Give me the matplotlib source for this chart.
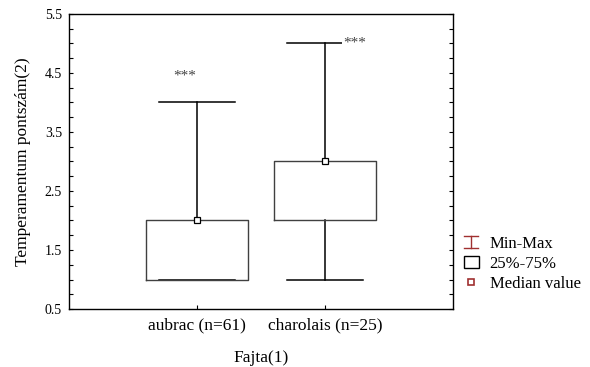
import matplotlib
matplotlib.use('Agg')
from matplotlib import pyplot as plt
from matplotlib.lines import Line2D
from matplotlib.patches import Rectangle
from matplotlib.legend_handler import HandlerBase

plt.rcParams['font.family'] = ['Liberation Serif', 'DejaVu Serif']

groups = ['aubrac (n=61)', 'charolais (n=25)']
mins = [1, 1]
q1s = [1, 2]
medians = [2, 3]
q3s = [2, 3]
maxs = [4, 5]
stars = ['***', '***']
star_y = [4.45, 5.0]
star_dx = [-0.1, 0.23]

red = '#a03030'


class MinMaxHandler(HandlerBase):
    # small I-beam for the legend
    def create_artists(self, legend, orig_handle, xd, yd, width, height, fontsize, trans):
        cx = xd + width / 2.0
        w = width * 0.45
        lines = [
            Line2D([cx, cx], [yd, yd + height], color=red, lw=1.0, transform=trans),
            Line2D([cx - w, cx + w], [yd + height, yd + height], color=red, lw=1.0, transform=trans),
            Line2D([cx - w, cx + w], [yd, yd], color=red, lw=1.0, transform=trans),
        ]
        return lines


def main():
    fig = plt.figure(figsize=(5.9, 3.67), dpi=100)
    ax = fig.add_axes([0.117, 0.158, 0.651, 0.804])

    pos = [1, 2]
    stats = []
    for i in range(len(groups)):
        stats.append({'med': medians[i], 'q1': q1s[i], 'q3': q3s[i],
                      'whislo': mins[i], 'whishi': maxs[i], 'fliers': []})
    ax.bxp(stats, positions=pos, widths=0.8, capwidths=0.6, showfliers=False,
           boxprops=dict(color='#404040', lw=1.0, zorder=4),
           whiskerprops=dict(color='black', lw=1.1),
           capprops=dict(color='black', lw=1.1),
           medianprops=dict(linestyle='none'))
    ax.plot(pos, medians, 's', ms=4.5, mfc='white', mec='black', mew=0.9, zorder=5)

    # the star label sits on a white patch, which hides part of the cap
    for i in range(len(groups)):
        ax.text(pos[i] + star_dx[i], star_y[i], stars[i], ha='center', va='center',
                fontsize=11, color='#444444',
                bbox=dict(facecolor='white', edgecolor='none', pad=0.5), zorder=6)

    ax.set_xlim(0, 3)
    ax.set_ylim(0.5, 5.5)
    ax.set_xticks(pos)
    ax.set_xticklabels(groups, fontsize=12.5)
    ax.set_yticks([0.5, 1.5, 2.5, 3.5, 4.5, 5.5])
    ax.set_yticklabels(['0.5', '1.5', '2.5', '3.5', '4.5', '5.5'], fontsize=10)
    ax.set_yticks([0.75 + 0.5 * k for k in range(10)] + [1.0 + k for k in range(5)], minor=True)
    ax.tick_params(axis='y', which='both', direction='in', length=3, right=True, width=0.8)
    ax.tick_params(axis='x', direction='in', length=3, width=0.8, pad=6)
    ax.tick_params(axis='y', which='major', pad=5)
    for sp in ax.spines.values():
        sp.set_linewidth(1.0)

    ax.set_xlabel('Fajta(1)', fontsize=12.5, labelpad=12)
    ax.set_ylabel('Temperamentum pontszám(2)', fontsize=12.5, labelpad=10)

    handles = [Line2D([], []),
               Rectangle((0, 0), 1, 1, facecolor='white', edgecolor='black', lw=1.0),
               Line2D([], [], ls='none', marker='s', ms=4, mfc='white', mec=red, mew=1.2)]
    labels = ['Min-Max', '25%-75%', 'Median value']
    fig.legend(handles, labels, loc='upper left', bbox_to_anchor=(0.786, 0.357),
               frameon=False, fontsize=12, handlelength=0.9, handleheight=0.7,
               handletextpad=0.65, labelspacing=0.25, borderpad=0, borderaxespad=0,
               handler_map={handles[0]: MinMaxHandler()})

    plt.savefig('out.png', dpi=100)
    plt.close()


if __name__ == '__main__':
    main()
